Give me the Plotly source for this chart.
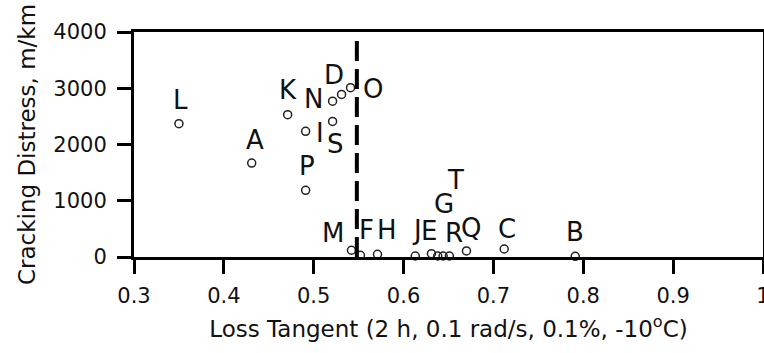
import plotly.graph_objects as go

# ---- data ----
names = ["L", "A", "K", "I", "P", "N", "S", "D", "O", "M",
         "F", "H", "J", "E", "G", "T", "R", "Q", "C", "B"]
loss_tangent = [0.350, 0.431, 0.471, 0.491, 0.491, 0.521, 0.521, 0.531, 0.541, 0.542,
                0.552, 0.571, 0.613, 0.631, 0.638, 0.644, 0.651, 0.670, 0.712, 0.791]
cracking = [2370, 1670, 2530, 2235, 1185, 2770, 2410, 2890, 3010, 120,
            30, 48, 18, 60, 18, 18, 18, 107, 142, 12]
threshold = 0.548
x_ticks = [0.3, 0.4, 0.5, 0.6, 0.7, 0.8, 0.9, 1.0]
x_tick_text = ["0.3", "0.4", "0.5", "0.6", "0.7", "0.8", "0.9", "1"]
y_ticks = [0, 1000, 2000, 3000, 4000]

# label offsets in pixels (dx right, dy up) relative to each point
label_shift = {
    "L": (2, 24), "A": (3, 23), "K": (0, 25), "N": (-19, 2), "D": (-8, 19),
    "O": (22, -1), "I": (14, -2), "S": (3, -23), "P": (1, 24), "M": (-18, 17),
    "F": (6, 25), "H": (9, 24), "J": (2, 26), "E": (-2, 23), "G": (6, 52),
    "T": (12, 76), "R": (5, 23), "Q": (5, 23), "C": (3, 20), "B": (0, 24),
}

FONT = "DejaVu Sans"

fig = go.Figure()
fig.add_trace(go.Scatter(
    x=loss_tangent, y=cracking, mode="markers",
    marker=dict(symbol="circle-open", size=8, color="#222222",
                line=dict(width=1.5, color="#222222")),
    hoverinfo="skip", showlegend=False, cliponaxis=False,
))

for n, xv, yv in zip(names, loss_tangent, cracking):
    dx, dy = label_shift[n]
    fig.add_annotation(x=xv, y=yv, text=n, showarrow=False,
                       xshift=dx, yshift=dy,
                       font=dict(family=FONT, size=26, color="#111111"))

fig.add_shape(type="line", x0=threshold, x1=threshold, y0=0, y1=3975,
              xref="x", yref="y",
              line=dict(color="black", width=4, dash="20px,8px"))

fig.update_layout(
    width=764, height=353,
    margin=dict(l=134, r=1, t=32, b=96, autoexpand=False),
    paper_bgcolor="white", plot_bgcolor="white",
    font=dict(family=FONT, color="black"),
    xaxis=dict(range=[0.3, 1.0], tickvals=x_ticks, ticktext=x_tick_text,
               showgrid=False, zeroline=False, automargin=False,
               showline=True, linewidth=3, linecolor="black", mirror=True,
               ticks="outside", ticklen=14, tickwidth=3, tickcolor="black",
               ticklabelstandoff=4, ticklabeloverflow="allow",
               tickfont=dict(family=FONT, size=21, color="#111111"),
               title=dict(text="Loss Tangent (2 h, 0.1 rad/s, 0.1%, -10<sup>o</sup>C)",
                          font=dict(family=FONT, size=23, color="#111111"),
                          standoff=14)),
    yaxis=dict(range=[0, 4000], tickvals=y_ticks,
               showgrid=False, zeroline=False, automargin=False,
               showline=True, linewidth=3, linecolor="black", mirror=True,
               ticks="outside", ticklen=14, tickwidth=3, tickcolor="black",
               ticklabelstandoff=6,
               tickfont=dict(family=FONT, size=21, color="#111111"),
               title=dict(text="Cracking Distress, m/km",
                          font=dict(family=FONT, size=23, color="#111111"),
                          standoff=12)),
)

fig.write_html("out.html")
